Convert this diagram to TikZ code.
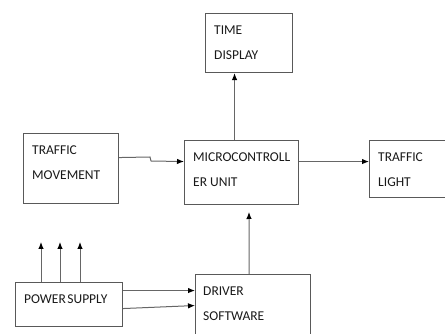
\documentclass[tikz,border=0pt]{standalone}
\usepackage{fontspec}
\setmainfont{Carlito}
\usepackage{tikz}
\usetikzlibrary{arrows.meta}

\tikzset{
  blk/.style={draw=black!65, line width=1.1pt, anchor=north west, inner sep=0pt},
  txt/.style={anchor=north west, inner sep=0pt, align=left, text=black!90,
    font=\fontsize{13.5}{25}\selectfont},
  arr/.style={draw=black!60, line width=1pt, -{Latex[length=7pt,width=5.5pt,color=black]}}
}

\begin{document}
\begin{tikzpicture}[x=1pt, y=-1pt]
        \useasboundingbox (0,0) rectangle (445,334);
        \clip (0,0) rectangle (445,334);

        % Boxes
        \node[blk, minimum width=87pt, minimum height=59pt] (time) at (205,13) {};
        \node[txt] at (214,26) {TIME\\DISPLAY};

        \node[blk, minimum width=95pt, minimum height=70pt] (tmov) at (23,133) {};
        \node[txt] at (32,146) {TRAFFIC\\MOVEMENT};

        \node[blk, minimum width=114pt, minimum height=64pt] (mcu) at (184,140) {};
        \node[txt] at (193,153) {MICROCONTROLL\\ER UNIT};

        \node[blk, minimum width=90pt, minimum height=57pt] (tlight) at (369,140) {};
        \node[txt] at (378,153) {TRAFFIC\\LIGHT};

        \node[blk, minimum width=107pt, minimum height=44pt] (ps) at (15,282) {};
        \node[txt] at (24,295) {\spaceskip=1.5pt POWER SUPPLY};

        \node[blk, minimum width=115pt, minimum height=66pt] (drv) at (195,274) {};
        \node[txt] at (203,287) {DRIVER\\SOFTWARE};

        % Free ends
        \coordinate (dtip) at (249,212);
        \coordinate (up1) at (41,242);
        \coordinate (up2) at (60,242);
        \coordinate (up3) at (80,242);

        % Connectors
        \draw[arr] ([xshift=-7pt]mcu.north) -- ([xshift=-7pt]mcu.north |- time.south);
        \draw[arr] ([yshift=11pt]tmov.east) -- (150,157) -- (151,161) -- ([yshift=11pt]mcu.west);
        \draw[arr] ([yshift=11pt]mcu.east) -- ([yshift=11pt]mcu.east -| tlight.west);
        \draw[arr] ([xshift=-4pt]drv.north) -- (dtip);
        \draw[arr] (ps.north -| up1) -- (up1);
        \draw[arr] (ps.north -| up2) -- (up2);
        \draw[arr] (ps.north -| up3) -- (up3);
        \draw[arr] ([yshift=14pt]ps.east) -- ([yshift=17pt]drv.west);
        \draw[arr] ([yshift=-4pt]ps.east) -- ([yshift=2pt]drv.west);
\end{tikzpicture}
\end{document}
